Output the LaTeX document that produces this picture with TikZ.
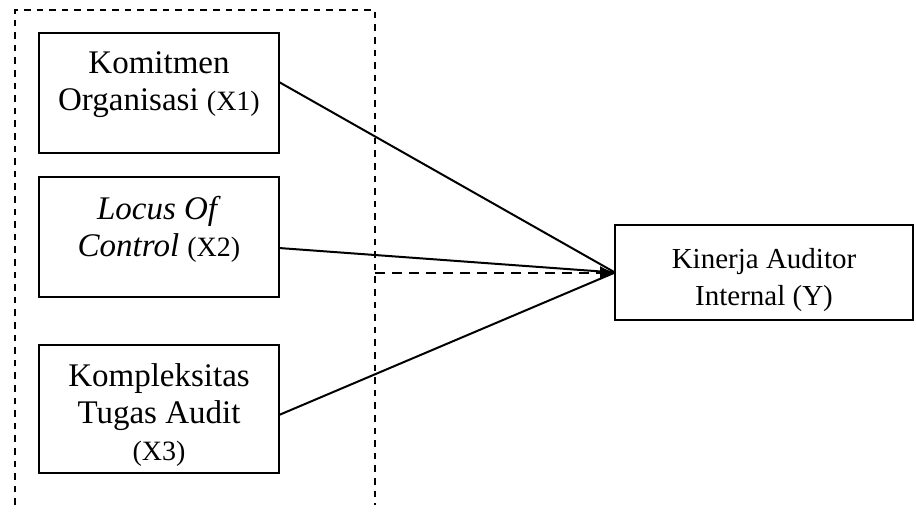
\documentclass[tikz,border=0pt]{standalone}
\usepackage{fontspec}
\setmainfont{Liberation Serif}
\usetikzlibrary{positioning, arrows.meta}
\tikzset{
	node distance = 12pt,
	line width = .75pt,
	box width/.store in=\varboxwidth,
	box width=120pt,
	varbox/.style={
		draw,
		line width=1.1pt,
		inner xsep=0pt,
		inner ysep=9.5pt,
		outer sep=0pt,
		font=\fontsize{16.5}{18.5}\selectfont,
		execute at begin node={\begin{minipage}[c][#1][t]{\varboxwidth}\centering},
		execute at end node={\end{minipage}}
	},
	varbox/.default=41pt,
	edge/.style={
		line width=1pt
	},
	frame/.style={
		dash pattern=on 3.3pt off 3pt,
		line width=.8pt
	},
	control/.style={
		-{Latex[length=7.5pt,width=6.5pt]},
		dash pattern=on 5pt off 3.5pt,
		line width=1pt
	}
}
\newcommand{\varidx}[1]{{\fontsize{14}{18.5}\selectfont #1}}

\begin{document}
\begin{tikzpicture}[x=.5pt, y=-.5pt]
		\useasboundingbox (0,0) rectangle (916,511);
\node[varbox] (x1) at (159,93) {Komitmen\\Organisasi \varidx{(X1)}};
\node[varbox, below=of x1] (x2) {\textit{Locus Of}\\\textit{Control} \varidx{(X2)}};
\node[varbox=45pt, below=24pt of x2] (x3) {Kompleksitas\\Tugas Audit\\\varidx{(X3)}};
\node[varbox=24.5pt, box width=149pt, inner ysep=11.5pt, font=\fontsize{14.5}{18.5}\selectfont] (y) at (764,272.5) {Kinerja Auditor\\Internal (Y)};

% dashed frame round X1, X2, X3
\coordinate (fbl) at (15,505);
\coordinate (ftl) at (15,10);
\coordinate (ftr) at (375,10);
\coordinate (fbr) at (375,505);
\coordinate (fm) at (375,272.5);
\draw[frame] (fbl) -- (ftl) -- (ftr) -- (fbr);

\draw[edge] ([yshift=5.5pt]x1.east) to (y.west);
\draw[edge] ([yshift=-5.5pt]x2.east) to (y.west);
\draw[edge] ([yshift=-3pt]x3.east) to (y.west);
\draw[control] (fm) to (y.west);
	\end{tikzpicture}
\end{document}
